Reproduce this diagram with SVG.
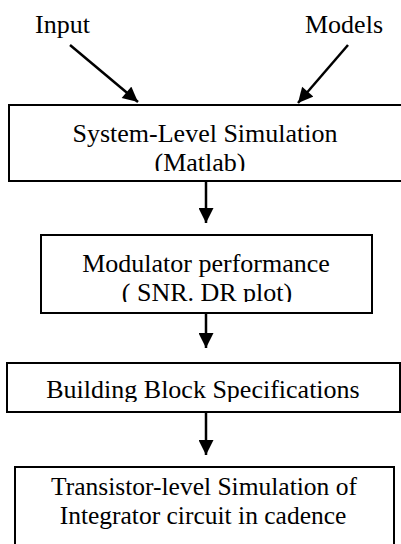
<svg xmlns="http://www.w3.org/2000/svg" width="401" height="544" viewBox="0 0 401 544">
<style>
.box{fill:#fff;stroke:#000;stroke-width:2}
.t{font-family:"Liberation Serif","Times New Roman",serif;font-size:26px;fill:#000;text-anchor:middle}
.l{font-family:"Liberation Serif","Times New Roman",serif;font-size:26px;fill:#000}
.c{stroke:#000;stroke-width:2.5;fill:none}
</style>
<defs>
<marker id="ah" viewBox="0 0 10 10" refX="10" refY="5" markerWidth="6.5" markerHeight="6" markerUnits="strokeWidth" orient="auto">
<path d="M0,0 L10,5 L0,10 Z" fill="#000"/>
</marker>
<clipPath id="c1"><rect x="10" y="106" width="400" height="65"/></clipPath>
<clipPath id="c2"><rect x="42" y="236" width="330" height="66"/></clipPath>
<clipPath id="c3"><rect x="8" y="364" width="392" height="38"/></clipPath>
<clipPath id="c4"><rect x="16" y="468" width="378" height="61"/></clipPath>
</defs>
<g id="input"><text class="l" x="35" y="33">Input</text></g>
<g id="models"><text class="l" x="305" y="33">Models</text></g>
<g id="n1">
<rect class="box" x="9" y="105" width="400" height="76"/>
<g clip-path="url(#c1)">
<text class="t" x="205" y="142">System-Level Simulation</text>
<text class="t" x="200" y="171">(Matlab)</text>
</g>
</g>
<g id="n2">
<rect class="box" x="41" y="235" width="331" height="78"/>
<g clip-path="url(#c2)">
<text class="t" x="206" y="272">Modulator performance</text>
<text class="t" x="207" y="301">( SNR. DR plot)</text>
</g>
</g>
<g id="n3">
<rect class="box" x="7" y="363" width="393" height="49"/>
<g clip-path="url(#c3)">
<text class="t" x="203" y="398">Building Block Specifications</text>
</g>
</g>
<g id="n4">
<rect class="box" x="15" y="467" width="379" height="90"/>
<g clip-path="url(#c4)">
<text class="t" x="204" y="495" style="font-size:25.5px">Transistor-level Simulation of</text>
<text class="t" x="203" y="524" style="font-size:25.5px">Integrator circuit in cadence</text>
</g>
</g>
<g id="connectors">
<line class="c" x1="70" y1="45" x2="138" y2="102" marker-end="url(#ah)"/>
<line class="c" x1="348" y1="45" x2="298" y2="103" marker-end="url(#ah)"/>
<line class="c" x1="206" y1="181" x2="206" y2="223" marker-end="url(#ah)"/>
<line class="c" x1="206" y1="313" x2="206" y2="348" marker-end="url(#ah)"/>
<line class="c" x1="206" y1="412" x2="206" y2="455" marker-end="url(#ah)"/>
</g>
</svg>
